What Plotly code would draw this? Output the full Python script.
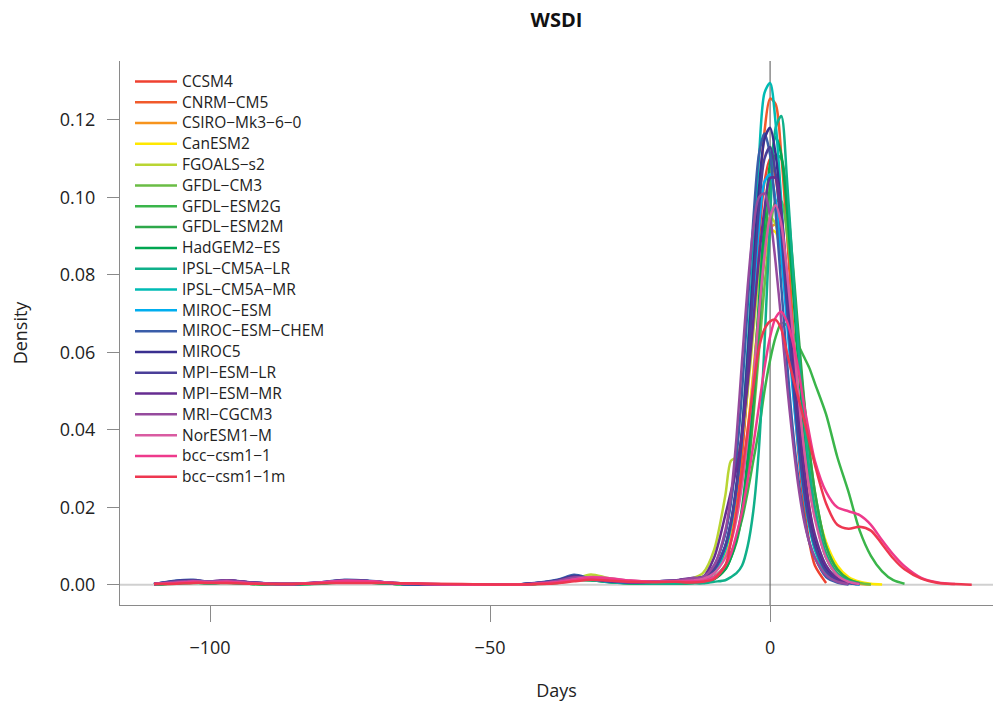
import plotly.graph_objects as go

days = [-110, -106, -103, -100, -97, -93, -86, -80, -76, -72, -66, -55, -45, -38, -35, -32, -29, -25, -21, -17, -14,
        -12, -10, -8, -7, -6, -5, -4, -3, -2, -1, 0, 1, 2, 3, 4, 5, 6, 7, 8,
        10, 12, 14, 16, 18, 20, 22, 24, 27, 30, 33, 36]

M = "\u2212"
models = ["CCSM4", "CNRM" + M + "CM5", "CSIRO" + M + "Mk3" + M + "6" + M + "0", "CanESM2", "FGOALS" + M + "s2",
          "GFDL" + M + "CM3", "GFDL" + M + "ESM2G", "GFDL" + M + "ESM2M", "HadGEM2" + M + "ES",
          "IPSL" + M + "CM5A" + M + "LR", "IPSL" + M + "CM5A" + M + "MR", "MIROC" + M + "ESM",
          "MIROC" + M + "ESM" + M + "CHEM", "MIROC5", "MPI" + M + "ESM" + M + "LR", "MPI" + M + "ESM" + M + "MR",
          "MRI" + M + "CGCM3", "NorESM1" + M + "M", "bcc" + M + "csm1" + M + "1", "bcc" + M + "csm1" + M + "1m"]

colors = ["#EF4130", "#F15A2B", "#F7941D", "#FFE800", "#B9D533", "#6ABD45", "#3AB54A", "#2EA84A",
          "#00A651", "#10B08A", "#00BBB4", "#00AEEF", "#3A5DA9", "#3A2F8F", "#4B3F98", "#662D91",
          "#954A9D", "#D95BA1", "#EE3A8C", "#EE3750"]

dens_ccsm4 = [0.0002, 0.0005, 0.0008, 0.0006, 0.0008, 0.0004, 0.0001, 0.0005, 0.0009, 0.0007, 0.0003, 0.0001, 0.0001, 0.0008, 0.0017, 0.0017, 0.0011, 0.0007, 0.0007, 0.0009, 0.0013,
              0.002, 0.004, 0.009, 0.014, 0.022, 0.034, 0.051, 0.070, 0.089, 0.104, 0.110, 0.105, 0.092, 0.073, 0.053, 0.035, 0.021, 0.011, 0.005,
              0.0005]
dens_cnrm = [0.0002, 0.0006, 0.0009, 0.0007, 0.0009, 0.0005, 0.0002, 0.0005, 0.0010, 0.0008, 0.0003, 0.0001, 0.0001, 0.0009, 0.0019, 0.0016, 0.0010, 0.0007, 0.0008, 0.0009, 0.0012,
             0.0015, 0.003, 0.008, 0.013, 0.021, 0.034, 0.053, 0.076, 0.099, 0.117, 0.1255, 0.124, 0.111, 0.091, 0.069, 0.049, 0.032, 0.020, 0.012,
             0.004, 0.0012, 0.0003]
dens_csiro = [0.0002, 0.0005, 0.0007, 0.0006, 0.0007, 0.0004, 0.0001, 0.0005, 0.0008, 0.0007, 0.0003, 0.0001, 0.0001, 0.0007, 0.0016, 0.0019, 0.0013, 0.0007, 0.0007, 0.0009, 0.0013,
              0.002, 0.004, 0.008, 0.012, 0.018, 0.027, 0.039, 0.054, 0.070, 0.084, 0.092, 0.093, 0.087, 0.075, 0.061, 0.047, 0.035, 0.025, 0.018,
              0.008, 0.003, 0.001, 0.0003, 0.0001]
dens_canesm2 = [0.0002, 0.0005, 0.0007, 0.0006, 0.0008, 0.0004, 0.0001, 0.0005, 0.0009, 0.0008, 0.0003, 0.0001, 0.0001, 0.0007, 0.0015, 0.0021, 0.0014, 0.0008, 0.0007, 0.0009, 0.0012,
                0.002, 0.004, 0.008, 0.012, 0.019, 0.028, 0.040, 0.055, 0.071, 0.085, 0.0915, 0.091, 0.084, 0.073, 0.060, 0.048, 0.038, 0.030, 0.022,
                0.011, 0.005, 0.002, 0.0008, 0.0003, 0.0001]
dens_fgoals = [0.0001, 0.0004, 0.0007, 0.0006, 0.0007, 0.0003, 0.0001, 0.0005, 0.0008, 0.0007, 0.0002, 0.0001, 0.0001, 0.0006, 0.0015, 0.0027, 0.0018, 0.0008, 0.0007, 0.0009, 0.0016,
               0.003, 0.009, 0.023, 0.032, 0.033, 0.038, 0.050, 0.065, 0.080, 0.090, 0.095, 0.093, 0.084, 0.070, 0.055, 0.040, 0.028, 0.018, 0.011,
               0.004, 0.0012, 0.0003]
dens_gfdl_cm3 = [0.0001, 0.0004, 0.0006, 0.0004, 0.0006, 0.0003, 0.0001, 0.0004, 0.0008, 0.0006, 0.0002, 0.0001, 0.0001, 0.0006, 0.0014, 0.0013, 0.0008, 0.0004, 0.0004, 0.0004, 0.0006,
                 0.001, 0.002, 0.005, 0.008, 0.012, 0.019, 0.029, 0.043, 0.060, 0.077, 0.091, 0.099, 0.099, 0.091, 0.078, 0.063, 0.048, 0.035, 0.024,
                 0.010, 0.004, 0.0015, 0.0005, 0.0001]
dens_gfdl_esm2g = [0.0001, 0.0003, 0.0005, 0.0004, 0.0005, 0.0003, 0.0001, 0.0003, 0.0007, 0.0006, 0.0002, 0.0001, 0.0001, 0.0005, 0.0012, 0.0012, 0.0008, 0.0004, 0.0004, 0.0004, 0.0006,
                   0.001, 0.002, 0.005, 0.008, 0.012, 0.017, 0.024, 0.032, 0.040, 0.050, 0.058, 0.064, 0.0675, 0.067, 0.065, 0.062, 0.059, 0.056, 0.052,
                   0.044, 0.033, 0.024, 0.014, 0.0075, 0.0035, 0.0012, 0.0003]
dens_gfdl_esm2m = [0.0001, 0.0004, 0.0006, 0.0005, 0.0006, 0.0003, 0.0001, 0.0004, 0.0008, 0.0007, 0.0002, 0.0001, 0.0001, 0.0006, 0.0013, 0.0012, 0.0008, 0.0004, 0.0004, 0.0004, 0.0005,
                   0.0008, 0.0015, 0.004, 0.007, 0.011, 0.018, 0.029, 0.045, 0.065, 0.087, 0.103, 0.111, 0.110, 0.100, 0.084, 0.066, 0.049, 0.035, 0.024,
                   0.010, 0.004, 0.0014, 0.0004]
dens_hadgem2 = [0.0001, 0.0005, 0.0007, 0.0005, 0.0007, 0.0003, 0.0001, 0.0005, 0.0009, 0.0007, 0.0002, 0.0001, 0.0001, 0.0007, 0.0015, 0.0013, 0.0008, 0.0004, 0.0004, 0.0004, 0.0005,
                0.0008, 0.0015, 0.004, 0.007, 0.012, 0.020, 0.033, 0.051, 0.073, 0.094, 0.109, 0.1155, 0.111, 0.097, 0.078, 0.058, 0.041, 0.028, 0.018,
                0.007, 0.0025, 0.0007, 0.0002]
dens_ipsl_lr = [0.0001, 0.0004, 0.0006, 0.0004, 0.0006, 0.0003, 0.0001, 0.0004, 0.0007, 0.0006, 0.0002, 0.0001, 0.0001, 0.0006, 0.0013, 0.0012, 0.0007, 0.0004, 0.0003, 0.0003, 0.0004,
                0.0004, 0.0008, 0.0012, 0.002, 0.003, 0.005, 0.010, 0.019, 0.035, 0.062, 0.094, 0.118, 0.121, 0.105, 0.083, 0.062, 0.044, 0.030, 0.020,
                0.008, 0.003, 0.001, 0.0003]
dens_ipsl_mr = [0.0002, 0.0007, 0.0010, 0.0006, 0.0009, 0.0005, 0.0002, 0.0006, 0.0011, 0.0009, 0.0003, 0.0001, 0.0001, 0.0010, 0.0021, 0.0015, 0.0009, 0.0006, 0.0007, 0.0009, 0.0012,
                0.0015, 0.003, 0.009, 0.015, 0.025, 0.040, 0.061, 0.086, 0.110, 0.127, 0.1295, 0.119, 0.099, 0.076, 0.055, 0.037, 0.024, 0.015, 0.009,
                0.003, 0.001, 0.0003]
dens_miroc_esm = [0.0002, 0.0009, 0.0011, 0.0007, 0.0010, 0.0006, 0.0002, 0.0006, 0.0012, 0.0010, 0.0003, 0.0001, 0.0001, 0.0012, 0.0024, 0.0015, 0.0009, 0.0006, 0.0008, 0.0010, 0.0015,
                  0.002, 0.004, 0.010, 0.016, 0.025, 0.038, 0.055, 0.074, 0.092, 0.104, 0.106, 0.099, 0.085, 0.068, 0.051, 0.036, 0.024, 0.016, 0.010,
                  0.004, 0.0015, 0.0005, 0.0001]
dens_miroc_chem = [0.0002, 0.0011, 0.0013, 0.0007, 0.0012, 0.0006, 0.0002, 0.0007, 0.0013, 0.0011, 0.0003, 0.0001, 0.0001, 0.0013, 0.0026, 0.0016, 0.0009, 0.0006, 0.0008, 0.0010, 0.0016,
                   0.002, 0.005, 0.013, 0.021, 0.033, 0.050, 0.072, 0.094, 0.111, 0.1165, 0.111, 0.096, 0.077, 0.058, 0.041, 0.028, 0.018, 0.011, 0.007,
                   0.002, 0.0006, 0.0001]
dens_miroc5 = [0.0002, 0.0010, 0.0012, 0.0008, 0.0011, 0.0006, 0.0002, 0.0006, 0.0012, 0.0010, 0.0003, 0.0001, 0.0001, 0.0011, 0.0023, 0.0016, 0.0010, 0.0007, 0.0009, 0.0011, 0.0016,
               0.002, 0.004, 0.010, 0.016, 0.026, 0.040, 0.059, 0.081, 0.102, 0.115, 0.118, 0.111, 0.096, 0.077, 0.058, 0.041, 0.028, 0.018, 0.011,
               0.004, 0.0014, 0.0005, 0.0002]
dens_mpi_lr = [0.0002, 0.0009, 0.0012, 0.0008, 0.0011, 0.0006, 0.0002, 0.0006, 0.0011, 0.0010, 0.0003, 0.0001, 0.0001, 0.0011, 0.0022, 0.0016, 0.0010, 0.0007, 0.0009, 0.0011, 0.0016,
               0.002, 0.004, 0.010, 0.016, 0.025, 0.038, 0.056, 0.077, 0.097, 0.110, 0.113, 0.106, 0.091, 0.072, 0.054, 0.038, 0.025, 0.016, 0.010,
               0.0035, 0.0012, 0.0003]
dens_mpi_mr = [0.0002, 0.0007, 0.0010, 0.0009, 0.0012, 0.0007, 0.0002, 0.0007, 0.0011, 0.0010, 0.0004, 0.0001, 0.0001, 0.0010, 0.0020, 0.0017, 0.0011, 0.0007, 0.0008, 0.0011, 0.0018,
               0.002, 0.007, 0.018, 0.024, 0.030, 0.039, 0.052, 0.068, 0.084, 0.097, 0.105, 0.105, 0.096, 0.080, 0.062, 0.045, 0.031, 0.020, 0.013,
               0.005, 0.0017, 0.0005]
dens_mri = [0.0002, 0.0008, 0.0010, 0.0009, 0.0011, 0.0006, 0.0002, 0.0007, 0.0011, 0.0010, 0.0004, 0.0001, 0.0001, 0.0010, 0.0019, 0.0018, 0.0012, 0.0007, 0.0008, 0.0011, 0.0017,
            0.002, 0.005, 0.014, 0.023, 0.038, 0.058, 0.077, 0.092, 0.100, 0.101, 0.095, 0.083, 0.068, 0.052, 0.038, 0.026, 0.017, 0.011, 0.007,
            0.0025, 0.0008, 0.0002]
dens_noresm = [0.0002, 0.0005, 0.0008, 0.0007, 0.0008, 0.0004, 0.0002, 0.0006, 0.0010, 0.0009, 0.0004, 0.0001, 0.0001, 0.0007, 0.0014, 0.0020, 0.0018, 0.0011, 0.0008, 0.0009, 0.0011,
               0.0015, 0.003, 0.007, 0.011, 0.017, 0.026, 0.038, 0.053, 0.070, 0.085, 0.095, 0.098, 0.093, 0.081, 0.066, 0.050, 0.036, 0.025, 0.017,
               0.007, 0.0025, 0.0008, 0.0002]
dens_bcc11 = [0.0002, 0.0005, 0.0008, 0.0006, 0.0008, 0.0004, 0.0002, 0.0006, 0.0010, 0.0009, 0.0004, 0.0001, 0.0001, 0.0007, 0.0013, 0.0019, 0.0017, 0.0011, 0.0008, 0.0008, 0.0009,
              0.001, 0.002, 0.005, 0.008, 0.013, 0.019, 0.027, 0.036, 0.046, 0.056, 0.064, 0.069, 0.0705, 0.068, 0.063, 0.056, 0.047, 0.039, 0.032,
              0.024, 0.020, 0.019, 0.018, 0.0155, 0.0115, 0.0078, 0.0048, 0.0018, 0.0006, 0.0002]
dens_bcc11m = [0.0002, 0.0003, 0.0005, 0.0005, 0.0005, 0.0003, 0.0002, 0.0004, 0.0005, 0.0005, 0.0004, 0.0002, 0.0001, 0.0004, 0.0009, 0.0013, 0.0011, 0.0008, 0.0007, 0.0008, 0.0006,
               0.0008, 0.0015, 0.005, 0.011, 0.019, 0.029, 0.040, 0.051, 0.061, 0.066, 0.068, 0.0684, 0.066, 0.060, 0.054, 0.0485, 0.043, 0.037, 0.031,
               0.021, 0.0155, 0.0145, 0.015, 0.014, 0.0105, 0.0068, 0.0040, 0.0016, 0.0005, 0.0002, 0.00005]

series = [dens_ccsm4, dens_cnrm, dens_csiro, dens_canesm2, dens_fgoals, dens_gfdl_cm3, dens_gfdl_esm2g,
          dens_gfdl_esm2m, dens_hadgem2, dens_ipsl_lr, dens_ipsl_mr, dens_miroc_esm, dens_miroc_chem,
          dens_miroc5, dens_mpi_lr, dens_mpi_mr, dens_mri, dens_noresm, dens_bcc11, dens_bcc11m]

x_ticks = [-100, -50, 0]
x_tick_text = [M + "100", M + "50", "0"]
y_ticks = [0.00, 0.02, 0.04, 0.06, 0.08, 0.10, 0.12]
y_tick_text = ["0.00", "0.02", "0.04", "0.06", "0.08", "0.10", "0.12"]

FONT = "Open Sans"
AXIS = "#8a8a8a"

fig = go.Figure()
for name, col, ys in zip(models, colors, series):
    fig.add_trace(go.Scatter(
        x=days[:len(ys)], y=ys, mode="lines",
        name="<span style='font-size:15.5px'>" + name + "</span>",
        line=dict(color=col, width=2.5, shape="spline", smoothing=0.8),
        hoverinfo="skip",
    ))

fig.add_shape(type="line", xref="paper", yref="y", x0=0, x1=1, y0=0, y1=0,
              line=dict(color="#d0d0d0", width=2), layer="below")
fig.add_shape(type="line", xref="x", yref="paper", x0=0, x1=0, y0=0, y1=1,
              line=dict(color="#6e6e6e", width=1.2), layer="below")

fig.update_layout(
    width=993, height=706,
    margin=dict(l=120, r=0, t=61, b=101),
    paper_bgcolor="white", plot_bgcolor="white",
    font=dict(family=FONT, color="#222222", size=18),
    title=dict(text="<b>WSDI</b>", x=0.5, xref="paper", xanchor="center",
               y=1 - 20 / 706, yref="container", yanchor="middle",
               font=dict(family=FONT, size=20, color="#111111")),
    showlegend=True,
    legend=dict(x=(130 - 120) / 873, y=1 - (66 - 61) / 544, xanchor="left", yanchor="top",
                bgcolor="rgba(0,0,0,0)", borderwidth=0, itemwidth=42,
                font=dict(family=FONT, size=13.7, color="#222222"), tracegroupgap=0),
    xaxis=dict(range=[-116.07, 39.8], tickvals=x_ticks, ticktext=x_tick_text,
               showline=True, linecolor=AXIS, linewidth=1.3, mirror=False,
               ticks="outside", ticklen=16, tickwidth=1.3, tickcolor=AXIS,
               showgrid=False, zeroline=False, ticklabelstandoff=10,
               tickfont=dict(size=18, family=FONT, color="#222222"),
               title=dict(text="Days", font=dict(size=18, family=FONT, color="#222222"), standoff=26)),
    yaxis=dict(range=[-0.0052, 0.1352], tickvals=y_ticks, ticktext=y_tick_text,
               showline=True, linecolor=AXIS, linewidth=1.3, mirror=False,
               ticks="outside", ticklen=12, tickwidth=1.3, tickcolor=AXIS,
               showgrid=False, zeroline=False, ticklabelstandoff=8,
               tickfont=dict(size=18, family=FONT, color="#222222"),
               title=dict(text="Density", font=dict(size=18, family=FONT, color="#222222"), standoff=27)),
)

fig.write_html("out.html")
